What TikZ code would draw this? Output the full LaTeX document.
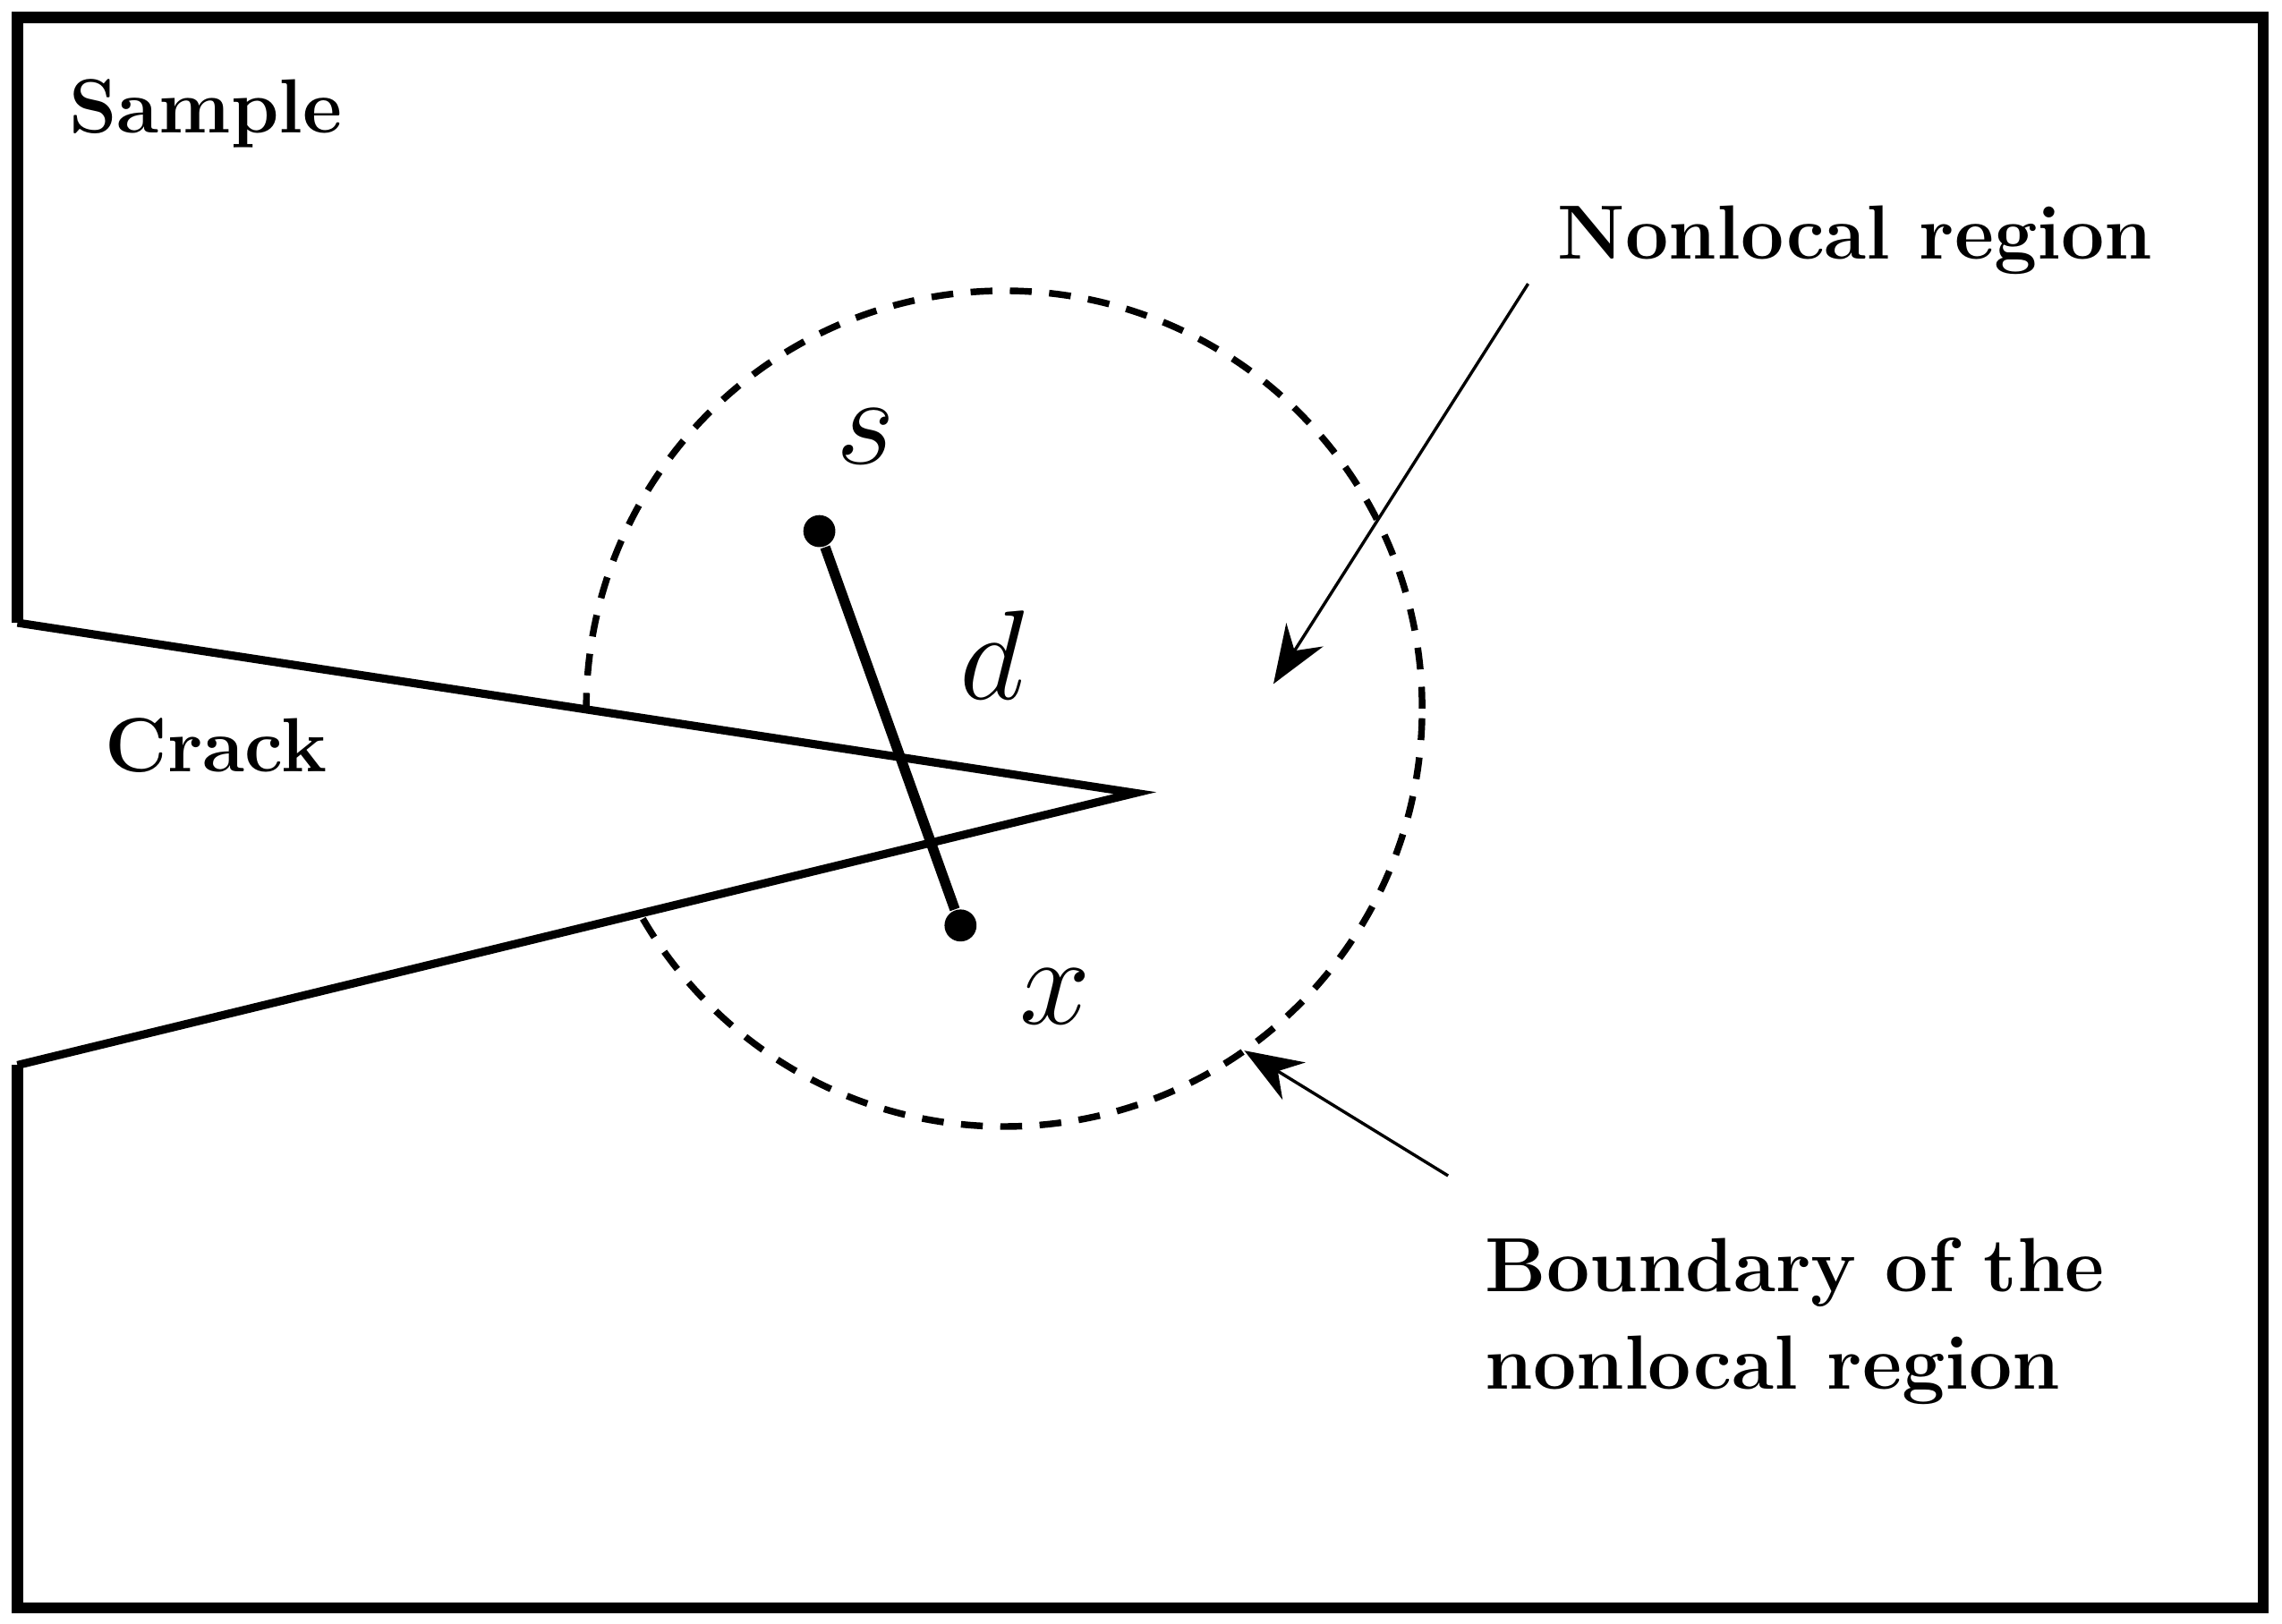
\documentclass[tikz,border=0pt]{standalone}
\usetikzlibrary{arrows.meta}
\begin{document}
\begin{tikzpicture}[x=0.01cm,y=-0.01cm,
  lbl/.style={font=\fontsize{15}{19}\selectfont\bfseries,anchor=west,align=left},
  mth/.style={font=\fontsize{40}{42}\selectfont},
  dot/.style={circle,fill=black,inner sep=0pt,minimum size=0.22cm},
  pt/.style={-{Stealth[length=0.4cm,width=0.3cm]},line width=0.6pt}]
\useasboundingbox (0,0) rectangle (1568,1116);
\draw[line width=1.3pt,dash pattern=on 0.15cm off 0.12cm] (690,487) circle[radius=2.87cm];
\fill[white] (12,428) -- (780,545) -- (12,732) -- cycle;
\draw[line width=2.2pt] (12,428) -- (12,12) -- (1555,12) -- (1555,1105) -- (12,1105) -- (12,732);
\draw[line width=1.6pt] (12,428) -- (780,545) -- (12,732);
\node[dot] (s) at (563,365) {};
\node[dot] (x) at (660,636) {};
\draw[line width=2pt] (s) -- (x);
\node[mth] at (595,300) {$s$};
\node[mth] at (682,450) {$d$};
\node[mth] at (725,685) {$x$};
\node[lbl] at (35,78) {Sample};
\node[lbl] at (60,512) {Crack};
\node[lbl] (nl) at (1058,165) {Nonlocal region};
\node[lbl] (bd) at (1008,908) {Boundary of the\\nonlocal region};
\coordinate (a1) at (1050,195);
\coordinate (a2) at (875,470);
\coordinate (b1) at (995,808);
\coordinate (b2) at (855,722);
\draw[pt] (a1) -- (a2);
\draw[pt] (b1) -- (b2);
\end{tikzpicture}
\end{document}
